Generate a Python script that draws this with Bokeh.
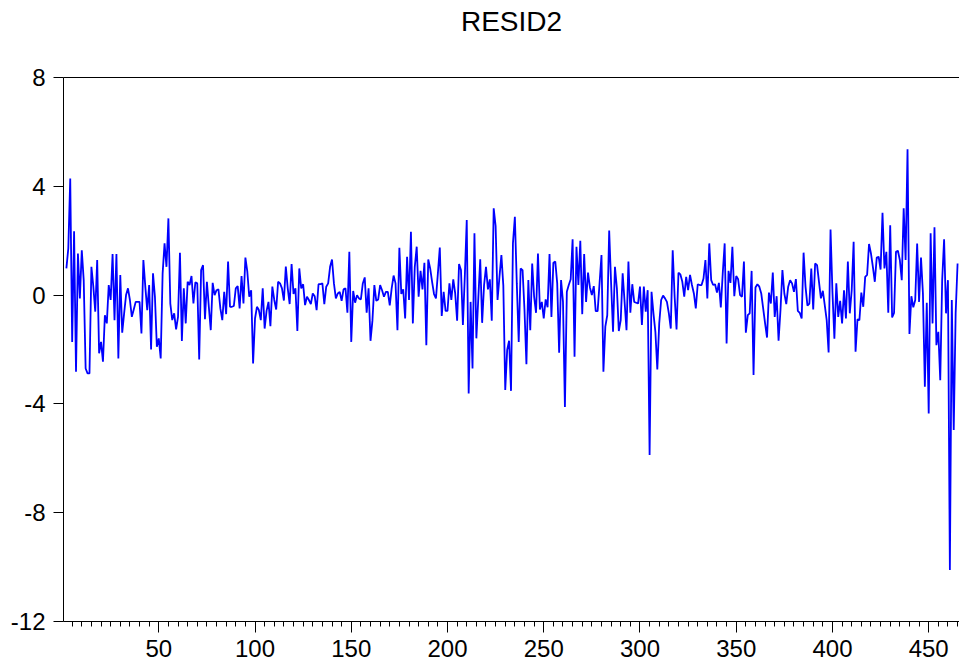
from bokeh.plotting import figure
from bokeh.models import (Range1d, SingleIntervalTicker, FixedTicker, PrintfTickFormatter,
                          LinearAxis)
from bokeh.embed import file_html
from bokeh.resources import INLINE

# Residual series, observation 2 onward, split in blocks of 100 observations
FIRST_OBS = 2

resid_002_101 = [
    0.98, 1.72, 4.29, -1.72, 2.35, -2.82, 1.53, -0.12, 1.65, 0.55,
    -2.70, -2.88, -2.88, 1.04, 0.31, -0.61, 1.29, -2.14, -1.72, -2.45,
    -0.74, -1.04, 0.37, -0.18, 1.51, -0.92, 1.51, -2.33, 0.74, -1.38,
    -0.67, 0.00, 0.25, -0.18, -0.80, -0.53, -0.25, -0.25, -0.25, -1.41,
    1.29, 0.31, -0.55, 0.37, -2.00, 0.80, -0.06, -1.90, -1.59, -2.33,
    0.80, 1.90, 1.04, 2.82, -0.31, -0.92, -0.67, -1.26, -0.80, 1.56,
    -1.69, 0.25, -1.04, 0.49, 0.37, 0.70, -0.31, 0.47, 0.43, -2.37,
    0.92, 1.10, -0.89, 0.49, -0.43, -1.29, 0.45, 0.00, 0.18, 0.21,
    -0.49, -0.92, 0.12, -0.70, 1.23, -0.43, -0.43, -0.40, 0.25, 0.33,
    -0.49, 0.70, -0.31, 1.38, 0.86, -0.06, 0.18, -2.51, -0.86, -0.43,
]

resid_102_201 = [
    -0.55, -0.92, 0.25, -1.23, -0.58, -0.25, -1.14, 0.31, -0.18, -0.53,
    0.49, 0.43, 0.25, -0.20, 1.05, 0.25, -0.33, 1.14, 0.04, 0.25,
    -1.32, 0.98, 0.25, 0.40, -0.37, -0.06, -0.18, -0.33, 0.06, -0.04,
    -0.55, 0.40, 0.40, 0.43, -0.33, 0.31, 0.43, 1.04, 1.31, 0.43,
    -0.12, 0.06, 0.12, -0.21, 0.21, 0.25, -0.65, 1.59, -1.72, 0.15,
    -0.28, 0.00, -0.12, -0.16, 0.43, 0.65, -0.65, 0.25, -1.68, -0.94,
    0.37, -0.21, -0.16, 0.37, 0.18, -0.06, 0.12, 0.12, -0.38, 0.25,
    0.72, 0.43, -1.29, 1.74, 0.04, 0.21, -0.86, 1.41, -0.18, 2.33,
    -1.04, 1.04, 1.78, -0.06, 0.89, 0.21, 1.19, -1.84, 1.31, 0.98,
    0.49, 0.04, -0.12, 0.80, 1.75, -0.77, 0.12, -0.58, -0.58, 0.43,
]

resid_202_301 = [
    -0.18, 0.58, 0.06, -0.94, 1.14, 0.92, -1.10, 0.70, 2.76, -3.62,
    -0.25, -2.70, 2.27, -1.59, -0.12, 1.32, -1.02, 0.37, 1.04, 0.21,
    0.58, -0.94, 3.19, 2.54, -0.18, 0.67, 1.47, 0.35, -3.49, -2.02,
    -1.68, -3.52, 1.90, 2.88, 0.43, -1.72, 0.98, 0.92, -0.55, -2.54,
    0.55, -1.29, 1.16, -0.06, -0.65, 1.53, -0.53, -0.25, -0.86, -0.16,
    -0.45, 1.51, -0.80, 1.19, 1.23, 0.43, -2.12, 0.55, -0.25, -4.11,
    0.12, 0.37, 0.58, 2.05, -2.27, 1.78, 0.37, 2.00, -0.70, 1.51,
    -0.25, 0.83, 0.28, 0.00, 0.33, -0.59, -0.59, 0.43, 1.47, -2.82,
    -1.16, -0.74, 2.37, 0.43, -1.35, 1.04, 0.25, -1.32, -0.92, 0.80,
    -0.25, -1.29, 1.23, -0.65, 0.40, -0.25, -0.28, -0.31, 0.31, -1.10,
]

resid_302_401 = [
    0.31, -0.61, 0.18, -5.88, 0.12, -0.67, -1.35, -2.73, -1.04, -0.18,
    -0.02, -0.12, -0.25, -0.67, -1.23, 1.65, -0.06, -1.26, 0.82, 0.76,
    0.49, -0.06, 0.67, 0.18, 0.74, 0.37, 0.06, -0.49, 0.40, 0.37,
    0.37, 0.61, 1.29, -0.12, 1.90, 0.55, 0.37, 0.40, 0.09, 0.45,
    -0.45, 0.80, 1.90, -1.78, 0.89, 0.45, 1.78, -0.04, 0.70, 0.58,
    0.00, -0.06, 1.23, -1.38, -0.74, -0.67, 0.89, -2.94, 0.28, 0.40,
    0.31, 0.06, -0.49, -1.04, -1.56, 0.09, -0.31, 0.83, -0.80, -0.04,
    -1.68, -0.55, 0.92, 0.06, -0.33, 0.31, 0.55, 0.43, 0.12, 0.59,
    -0.58, -0.65, -0.86, 1.56, 0.31, -0.39, -0.31, 0.98, -0.53, 1.16,
    1.10, 0.49, -0.12, 0.16, -0.37, -0.92, -2.11, 2.41, 0.10, -1.60,
]

resid_402_465 = [
    0.43, -0.80, -0.21, -1.04, 0.18, -0.86, 1.23, -0.67, 0.18, 1.96,
    -2.08, -0.89, -0.92, 0.09, -0.43, 0.67, 0.74, 1.88, 1.53, 1.04,
    0.49, 1.38, 1.41, 0.94, 3.03, 0.98, 1.59, -0.65, 2.57, -0.82,
    -0.65, 1.59, 1.63, 1.29, 0.55, 3.19, 1.29, 5.36, -1.43, -0.04,
    -0.45, -0.18, 1.90, -0.25, 1.38, 0.06, -3.37, -0.28, -4.35, 2.27,
    -1.04, 2.49, -1.84, -1.35, -3.13, 0.55, 2.05, -0.67, 0.55, -10.11,
    -0.18, -4.96, -0.67, 1.16,
]

resid2 = resid_002_101 + resid_102_201 + resid_202_301 + resid_302_401 + resid_402_465
obs = list(range(FIRST_OBS, FIRST_OBS + len(resid2)))

y_ticks = [-12, -8, -4, 0, 4, 8]
X_START, X_END = 0.5, 466
Y_START, Y_END = -12, 8

FONT = "Liberation Sans"

p = figure(
    width=959, height=664,
    output_backend="svg", toolbar_location=None,
    x_range=Range1d(X_START, X_END), y_range=Range1d(Y_START, Y_END),
    min_border_left=63, min_border_right=0, min_border_top=77, min_border_bottom=43,
    background_fill_color="white", border_fill_color="white",
)
p.title.visible = False

p.xgrid.visible = False
p.ygrid.visible = False
p.outline_line_color = None

xa = p.below[0]
ya = p.left[0]

# top edge of the frame: a tickless axis line (the right edge runs off the page),
# whose axis label carries the chart heading
top_axis = LinearAxis(
    ticker=FixedTicker(ticks=[]),
    axis_line_color="black", axis_line_width=1,
    major_tick_line_color=None, minor_tick_line_color=None,
    major_label_text_font_size="1px", major_label_text_color="white",
    axis_label="RESID2",
    axis_label_text_font=FONT, axis_label_text_font_size="28px",
    axis_label_text_font_style="normal", axis_label_text_color="black",
    axis_label_standoff=41,
)
p.add_layout(top_axis, "above")

p.line(obs, resid2, line_color="#0000FF", line_width=1.8)

xa.ticker = SingleIntervalTicker(interval=50, num_minor_ticks=10)
xa.formatter = PrintfTickFormatter(format="%d")
xa.axis_line_color = "black"
xa.major_tick_line_color = "black"
xa.minor_tick_line_color = "black"
xa.major_tick_in = 0
xa.major_tick_out = 11
xa.minor_tick_in = 0
xa.minor_tick_out = 5
xa.major_label_standoff = 7
xa.major_label_text_font = FONT
xa.major_label_text_font_size = "24px"
xa.major_label_text_color = "black"

ya.ticker = FixedTicker(ticks=y_ticks)
ya.formatter = PrintfTickFormatter(format="%d")
ya.axis_line_color = "black"
ya.major_tick_line_color = "black"
ya.minor_tick_line_color = None
ya.major_tick_in = 0
ya.major_tick_out = 10
ya.major_label_standoff = 8
ya.major_label_text_font = FONT
ya.major_label_text_font_size = "24px"
ya.major_label_text_color = "black"

open("out.html", "w").write(file_html(p, INLINE))
